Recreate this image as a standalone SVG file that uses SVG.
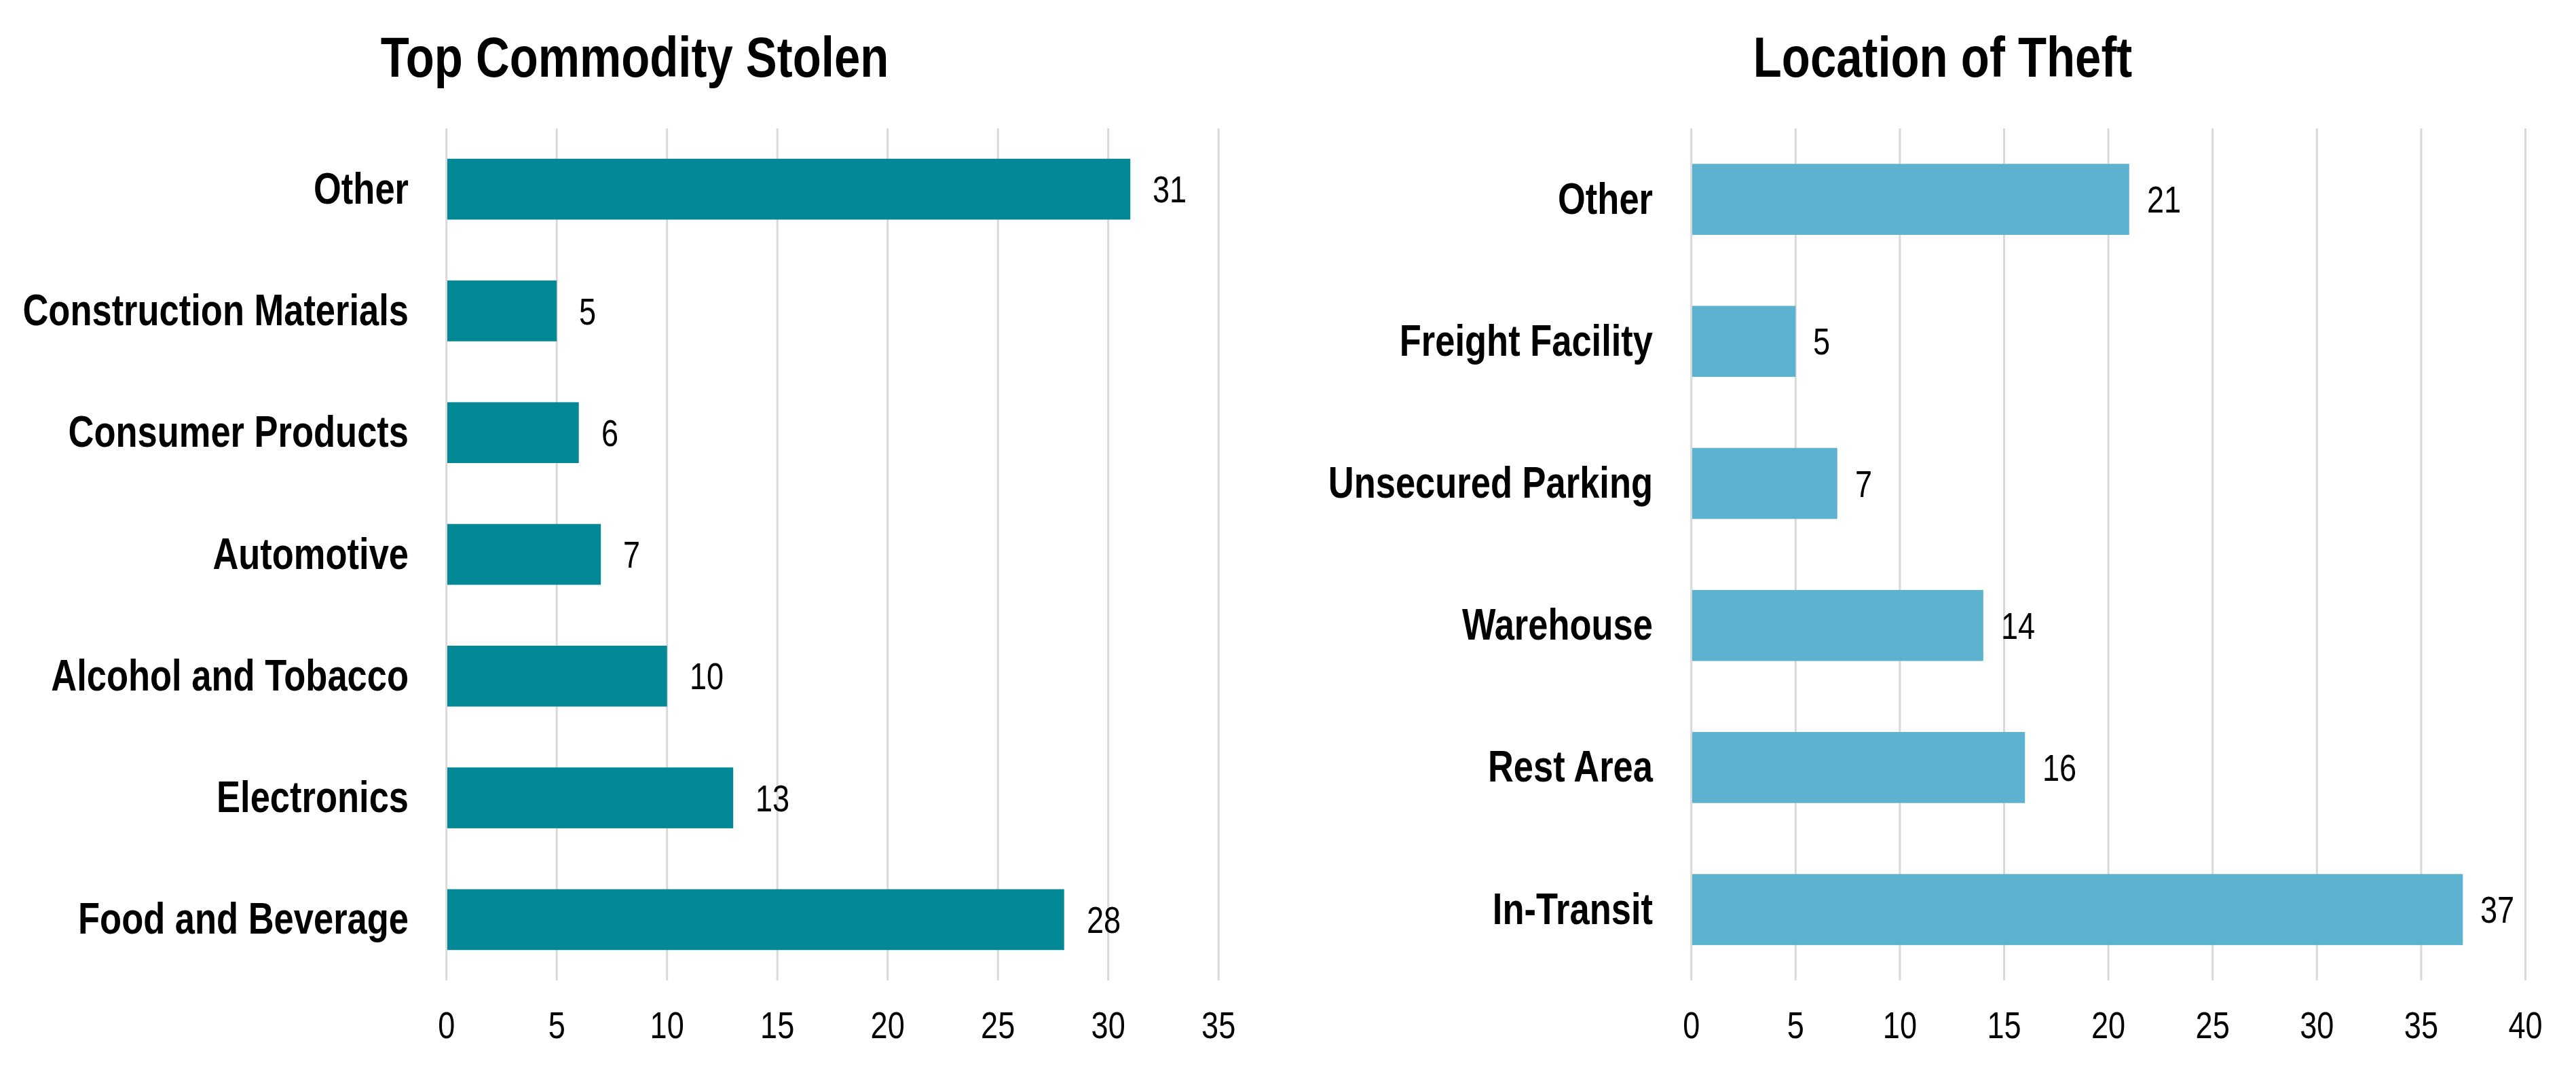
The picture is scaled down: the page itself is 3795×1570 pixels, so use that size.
<svg xmlns="http://www.w3.org/2000/svg" width="3795" height="1570" viewBox="0 0 3795 1570">
<style>
text{font-family:"Liberation Sans",Arial,sans-serif;fill:#000}
.title{font-size:84px;font-weight:bold;text-anchor:middle}
.cat{font-size:64px;font-weight:bold;text-anchor:end}
.val{font-size:55px}
.tick{font-size:55px;text-anchor:middle}
.grid line{stroke:#D9D9D9;stroke-width:3}
.barA{fill:#038895}
.barB{fill:#5DB2CF}
</style>
<rect width="3795" height="1570" fill="#FFFFFF"/>
<g id="chart-commodity">
<text class="title" transform="translate(935 113) scale(0.82 1)">Top Commodity Stolen</text>
<g class="grid">
<line x1="657.7" y1="189" x2="657.7" y2="1444"/>
<line x1="820.2" y1="189" x2="820.2" y2="1444"/>
<line x1="982.7" y1="189" x2="982.7" y2="1444"/>
<line x1="1145.2" y1="189" x2="1145.2" y2="1444"/>
<line x1="1307.7" y1="189" x2="1307.7" y2="1444"/>
<line x1="1470.2" y1="189" x2="1470.2" y2="1444"/>
<line x1="1632.7" y1="189" x2="1632.7" y2="1444"/>
<line x1="1795.2" y1="189" x2="1795.2" y2="1444"/>
</g>
<g id="c-other"><rect class="barA" x="659" y="233.8" width="1006.2" height="89.6"/><text class="cat" transform="translate(602 299.6) scale(0.82 1)">Other</text><text class="val" transform="translate(1698 298.2) scale(0.82 1)">31</text></g>
<g id="c-construction"><rect class="barA" x="659" y="413.1" width="161.2" height="89.6"/><text class="cat" transform="translate(602 478.9) scale(0.82 1)">Construction Materials</text><text class="val" transform="translate(853 477.5) scale(0.82 1)">5</text></g>
<g id="c-consumer"><rect class="barA" x="659" y="592.4" width="193.7" height="89.6"/><text class="cat" transform="translate(602 658.2) scale(0.82 1)">Consumer Products</text><text class="val" transform="translate(886 656.8) scale(0.82 1)">6</text></g>
<g id="c-automotive"><rect class="barA" x="659" y="771.7" width="226.2" height="89.6"/><text class="cat" transform="translate(602 837.5) scale(0.82 1)">Automotive</text><text class="val" transform="translate(918 836.1) scale(0.82 1)">7</text></g>
<g id="c-alcohol"><rect class="barA" x="659" y="951" width="323.7" height="89.6"/><text class="cat" transform="translate(602 1016.8) scale(0.82 1)">Alcohol and Tobacco</text><text class="val" transform="translate(1016 1015.4) scale(0.82 1)">10</text></g>
<g id="c-electronics"><rect class="barA" x="659" y="1130.3" width="421.2" height="89.6"/><text class="cat" transform="translate(602 1196.1) scale(0.82 1)">Electronics</text><text class="val" transform="translate(1113 1194.7) scale(0.82 1)">13</text></g>
<g id="c-food"><rect class="barA" x="659" y="1309.6" width="908.7" height="89.6"/><text class="cat" transform="translate(602 1375.4) scale(0.82 1)">Food and Beverage</text><text class="val" transform="translate(1601 1374) scale(0.82 1)">28</text></g>
<g id="c-axis">
<text class="tick" transform="translate(657.7 1529) scale(0.82 1)">0</text>
<text class="tick" transform="translate(820.2 1529) scale(0.82 1)">5</text>
<text class="tick" transform="translate(982.7 1529) scale(0.82 1)">10</text>
<text class="tick" transform="translate(1145.2 1529) scale(0.82 1)">15</text>
<text class="tick" transform="translate(1307.7 1529) scale(0.82 1)">20</text>
<text class="tick" transform="translate(1470.2 1529) scale(0.82 1)">25</text>
<text class="tick" transform="translate(1632.7 1529) scale(0.82 1)">30</text>
<text class="tick" transform="translate(1795.2 1529) scale(0.82 1)">35</text>
</g>
</g>
<g id="chart-location">
<text class="title" transform="translate(2862 113) scale(0.82 1)">Location of Theft</text>
<g class="grid">
<line x1="2491.7" y1="189" x2="2491.7" y2="1444"/>
<line x1="2645.3" y1="189" x2="2645.3" y2="1444"/>
<line x1="2798.9" y1="189" x2="2798.9" y2="1444"/>
<line x1="2952.5" y1="189" x2="2952.5" y2="1444"/>
<line x1="3106.1" y1="189" x2="3106.1" y2="1444"/>
<line x1="3259.7" y1="189" x2="3259.7" y2="1444"/>
<line x1="3413.3" y1="189" x2="3413.3" y2="1444"/>
<line x1="3566.9" y1="189" x2="3566.9" y2="1444"/>
<line x1="3720.5" y1="189" x2="3720.5" y2="1444"/>
</g>
<g id="l-other"><rect class="barB" x="2493" y="241.3" width="643.8" height="104.6"/><text class="cat" transform="translate(2435 314.6) scale(0.82 1)">Other</text><text class="val" transform="translate(3163 313.2) scale(0.82 1)">21</text></g>
<g id="l-freight"><rect class="barB" x="2493" y="450.5" width="152.3" height="104.6"/><text class="cat" transform="translate(2435 523.8) scale(0.82 1)">Freight Facility</text><text class="val" transform="translate(2671 522.4) scale(0.82 1)">5</text></g>
<g id="l-unsecured"><rect class="barB" x="2493" y="659.7" width="213.7" height="104.6"/><text class="cat" transform="translate(2435 733) scale(0.82 1)">Unsecured Parking</text><text class="val" transform="translate(2733 731.6) scale(0.82 1)">7</text></g>
<g id="l-warehouse"><rect class="barB" x="2493" y="868.9" width="428.8" height="104.6"/><text class="cat" transform="translate(2435 942.2) scale(0.82 1)">Warehouse</text><text class="val" transform="translate(2948 940.8) scale(0.82 1)">14</text></g>
<g id="l-rest"><rect class="barB" x="2493" y="1078.1" width="490.2" height="104.6"/><text class="cat" transform="translate(2435 1151.4) scale(0.82 1)">Rest Area</text><text class="val" transform="translate(3009 1150) scale(0.82 1)">16</text></g>
<g id="l-transit"><rect class="barB" x="2493" y="1287.3" width="1135.3" height="104.6"/><text class="cat" transform="translate(2435 1360.6) scale(0.82 1)">In-Transit</text><text class="val" transform="translate(3654 1359.2) scale(0.82 1)">37</text></g>
<g id="l-axis">
<text class="tick" transform="translate(2491.7 1529) scale(0.82 1)">0</text>
<text class="tick" transform="translate(2645.3 1529) scale(0.82 1)">5</text>
<text class="tick" transform="translate(2798.9 1529) scale(0.82 1)">10</text>
<text class="tick" transform="translate(2952.5 1529) scale(0.82 1)">15</text>
<text class="tick" transform="translate(3106.1 1529) scale(0.82 1)">20</text>
<text class="tick" transform="translate(3259.7 1529) scale(0.82 1)">25</text>
<text class="tick" transform="translate(3413.3 1529) scale(0.82 1)">30</text>
<text class="tick" transform="translate(3566.9 1529) scale(0.82 1)">35</text>
<text class="tick" transform="translate(3720.5 1529) scale(0.82 1)">40</text>
</g>
</g>
<g id="connectors"/>
</svg>
